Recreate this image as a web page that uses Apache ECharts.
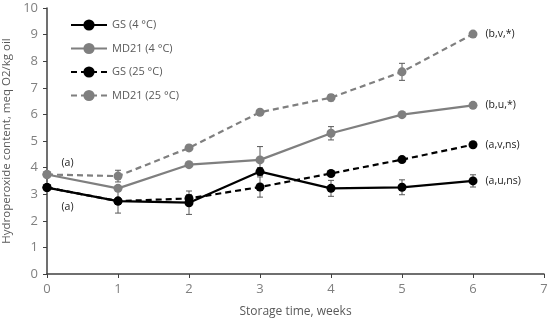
<!DOCTYPE html>
<html>
<head>
<meta charset="utf-8">
<script src="https://cdn.jsdelivr.net/npm/echarts@6/dist/echarts.min.js"></script>
<style>html,body{margin:0;padding:0;background:#fff}#c{width:550px;height:321px}</style>
</head>
<body>
<div id="c"></div>
<script>
var weeks = [0, 1, 2, 3, 4, 5, 6];
var seriesNames = ['GS (4 °C)', 'MD21 (4 °C)', 'GS (25 °C)', 'MD21 (25 °C)'];
var gs4 = [3.25, 2.74, 2.68, 3.85, 3.22, 3.26, 3.50];
var md4 = [3.74, 3.22, 4.11, 4.29, 5.29, 5.99, 6.34];
var gs25 = [3.25, 2.74, 2.84, 3.27, 3.78, 4.30, 4.86];
var md25 = [3.74, 3.68, 4.74, 6.08, 6.63, 7.60, 9.02];
var gs4Err = [0.05, 0.45, 0.44, 0.15, 0.30, 0.28, 0.23];
var md4Err = [0.05, 0.10, 0.08, 0.50, 0.25, 0.08, 0.05];
var gs25Err = [0.05, 0.10, 0.15, 0.38, 0.08, 0.08, 0.05];
var md25Err = [0.08, 0.22, 0.10, 0.10, 0.12, 0.32, 0.08];
var endLabels = ['(a,u,ns)', '(b,u,*)', '(a,v,ns)', '(b,v,*)'];
var startLabels = ['(a)', '', '', '(a)'];
var yTicks = [0, 1, 2, 3, 4, 5, 6, 7, 8, 9, 10];
var xTicks = [0, 1, 2, 3, 4, 5, 6, 7];

var chart = echarts.init(document.getElementById('c'), null, {renderer: 'canvas'});
var colors = ['#000000', '#7f7f7f', '#000000', '#7f7f7f'];
var dashed = [false, false, true, true];
var vals = [gs4, md4, gs25, md25];
var errs = [gs4Err, md4Err, gs25Err, md25Err];
var startOffsets = [[10, 19], null, null, [10, -12]];

var series = [];
for (var s = 0; s < 4; s++) {
  (function (s) {
    var errData = weeks.map(function (w, i) { return [w, vals[s][i] - errs[s][i], vals[s][i] + errs[s][i]]; });
    series.push({
      type: 'custom',
      name: seriesNames[s] + ' err',
      z: 1,
      silent: true,
      renderItem: function (params, api) {
        var x = api.value(0);
        var lo = api.coord([x, api.value(1)]);
        var hi = api.coord([x, api.value(2)]);
        var hw = 3;
        var st = {stroke: '#595959', lineWidth: 1};
        return {type: 'group', children: [
          {type: 'line', shape: {x1: lo[0], y1: lo[1], x2: hi[0], y2: hi[1]}, style: st},
          {type: 'line', shape: {x1: lo[0] - hw, y1: lo[1], x2: lo[0] + hw, y2: lo[1]}, style: st},
          {type: 'line', shape: {x1: hi[0] - hw, y1: hi[1], x2: hi[0] + hw, y2: hi[1]}, style: st}
        ]};
      },
      data: errData
    });
    var data = weeks.map(function (w, i) {
      var d = {value: [w, vals[s][i]]};
      if (i === weeks.length - 1) {
        d.label = {show: true, position: 'right', distance: 8, formatter: endLabels[s]};
      } else if (i === 0 && startLabels[s]) {
        d.label = {show: true, position: 'right', distance: 0, offset: startOffsets[s], formatter: startLabels[s]};
      }
      return d;
    });
    series.push({
      type: 'line',
      name: seriesNames[s],
      z: 2 + (s === 0 ? 3 : s),
      symbol: 'circle',
      symbolSize: 9,
      lineStyle: {color: colors[s], width: 2.2, type: dashed[s] ? [6, 4] : 'solid'},
      itemStyle: {color: colors[s]},
      label: {color: '#222', fontSize: 10.5, fontFamily: 'Open Sans'},
      data: data
    });
  })(s);
}

chart.setOption({
  animation: false,
  grid: {left: 47, right: 6, top: 8, bottom: 47, containLabel: false, outerBoundsMode: 'none'},
  legend: {
    show: true,
    data: seriesNames,
    orient: 'vertical',
    left: 70, top: 18,
    padding: 0,
    itemGap: 9.5,
    itemWidth: 36, itemHeight: 14,
    textStyle: {color: '#595959', fontSize: 11, fontFamily: 'Open Sans', lineHeight: 14}
  },
  xAxis: {
    type: 'value', min: 0, max: 7, interval: 1,
    name: 'Storage time, weeks', nameLocation: 'middle', nameGap: 32,
    nameTextStyle: {color: '#595959', fontSize: 12, fontFamily: 'Open Sans'},
    axisLine: {lineStyle: {color: '#404040', width: 1.5}},
    axisTick: {show: true, length: 4, lineStyle: {color: '#404040'}},
    axisLabel: {color: '#7f7f7f', fontSize: 13, fontFamily: 'Open Sans', margin: 9},
    splitLine: {show: false}
  },
  yAxis: {
    type: 'value', min: 0, max: 10, interval: 1,
    name: 'Hydroperoxide content, meq O2/kg oil', nameLocation: 'middle', nameGap: 34,
    nameTextStyle: {color: '#595959', fontSize: 11.5, fontFamily: 'Open Sans'},
    axisLine: {show: true, lineStyle: {color: '#404040', width: 1.5}},
    axisTick: {show: true, length: 4, lineStyle: {color: '#404040'}},
    axisLabel: {color: '#7f7f7f', fontSize: 13, fontFamily: 'Open Sans', margin: 9},
    splitLine: {show: false}
  },
  series: series
});
</script>
</body>
</html>
